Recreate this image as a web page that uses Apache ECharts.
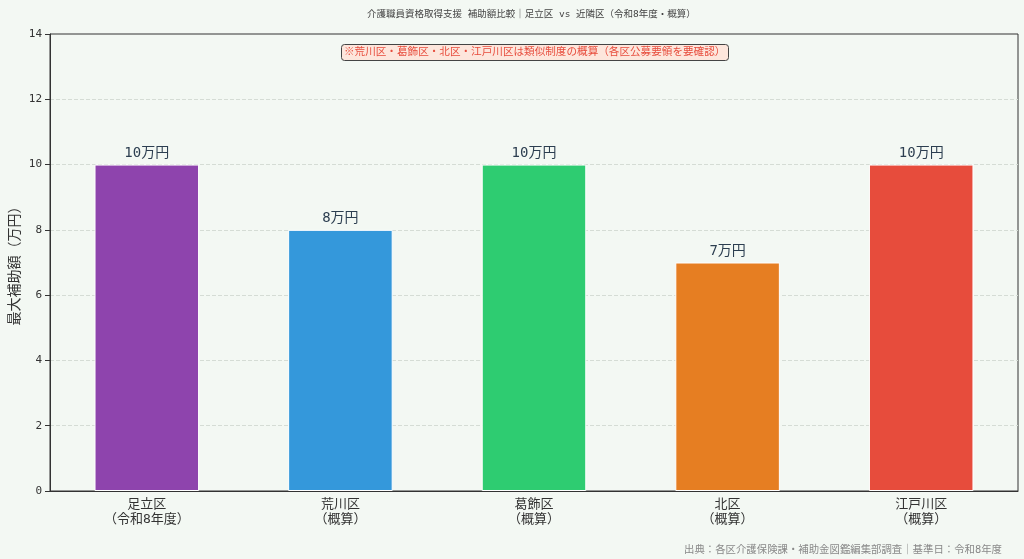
<!DOCTYPE html>
<html><head><meta charset="utf-8">
<script src="https://cdn.jsdelivr.net/npm/echarts@6/dist/echarts.min.js"></script>
<style>html,body{margin:0;padding:0;background:#f3f8f3;}#c{width:1024px;height:559px;}</style>
</head><body><div id="c"></div>
<script>
const categories = ['足立区\n（令和8年度）','荒川区\n（概算）','葛飾区\n（概算）','北区\n（概算）','江戸川区\n（概算）'];
const values = [10, 8, 10, 7, 10];
const barColors = ['#8e44ad','#3498db','#2ecc71','#e67e22','#e74c3c'];
const valueLabels = ['10万円','8万円','10万円','7万円','10万円'];
const yTicks = {min:0, max:14, interval:2};
const FONT = '"DejaVu Sans Mono","Noto Sans CJK JP",monospace';
const chart = echarts.init(document.getElementById('c'));
chart.setOption({
  backgroundColor:'#f3f8f3',
  animation:false,
  textStyle:{fontFamily:FONT},
  title:[
    {text:'介護職員資格取得支援 補助額比較｜足立区 vs 近隣区（令和8年度・概算）',left:362,top:5,
     textStyle:{fontSize:9.5,fontWeight:'normal',color:'#444',fontFamily:FONT}},
    {text:'出典：各区介護保険課・補助金図鑑編集部調査｜基準日：令和8年度',right:17,top:540,
     textStyle:{fontSize:10.4,fontWeight:'normal',color:'#888',fontFamily:FONT}},
    {text:'※荒川区・葛飾区・北区・江戸川区は類似制度の概算（各区公募要領を要確認）',left:341,top:44,
     backgroundColor:'#fde6dc',borderColor:'#444',borderWidth:1,borderRadius:3,padding:[3,3],
     textStyle:{fontSize:10.6,fontWeight:'normal',color:'#e74c3c',fontFamily:FONT}}
  ],
  grid:{left:50,right:6,top:34,bottom:68,outerBoundsMode:'none',containLabel:false,show:true,borderColor:'#333',borderWidth:1,backgroundColor:'transparent'},
  xAxis:{type:'category',data:categories,
    axisLine:{lineStyle:{color:'#333'}},axisTick:{alignWithLabel:true,length:5,lineStyle:{color:'#333'}},
    axisLabel:{fontSize:13,color:'#333',lineHeight:15,margin:6,fontFamily:FONT}},
  yAxis:{type:'value',min:yTicks.min,max:yTicks.max,interval:yTicks.interval,
    name:'最大補助額（万円）',nameLocation:'middle',nameGap:28,nameMoveOverlap:false,
    nameTextStyle:{fontSize:14,color:'#333',fontFamily:FONT},
    axisLine:{show:true,lineStyle:{color:'#333'}},axisTick:{show:true,length:5,lineStyle:{color:'#333'}},
    axisLabel:{fontSize:11,color:'#333',fontFamily:FONT},
    splitLine:{showMaxLine:false,showMinLine:false,lineStyle:{type:'dashed',color:'#d5dcd5'}}},
  series:[{type:'bar',barWidth:'54%',
    data:values.map((v,i)=>({value:v,itemStyle:{color:barColors[i]}})),
    itemStyle:{borderColor:'#ffffff',borderWidth:1},
    label:{show:true,position:'top',distance:4,fontSize:14,color:'#2c3e50',fontFamily:FONT,
      formatter:p=>valueLabels[p.dataIndex]}}]
});
</script></body></html>
